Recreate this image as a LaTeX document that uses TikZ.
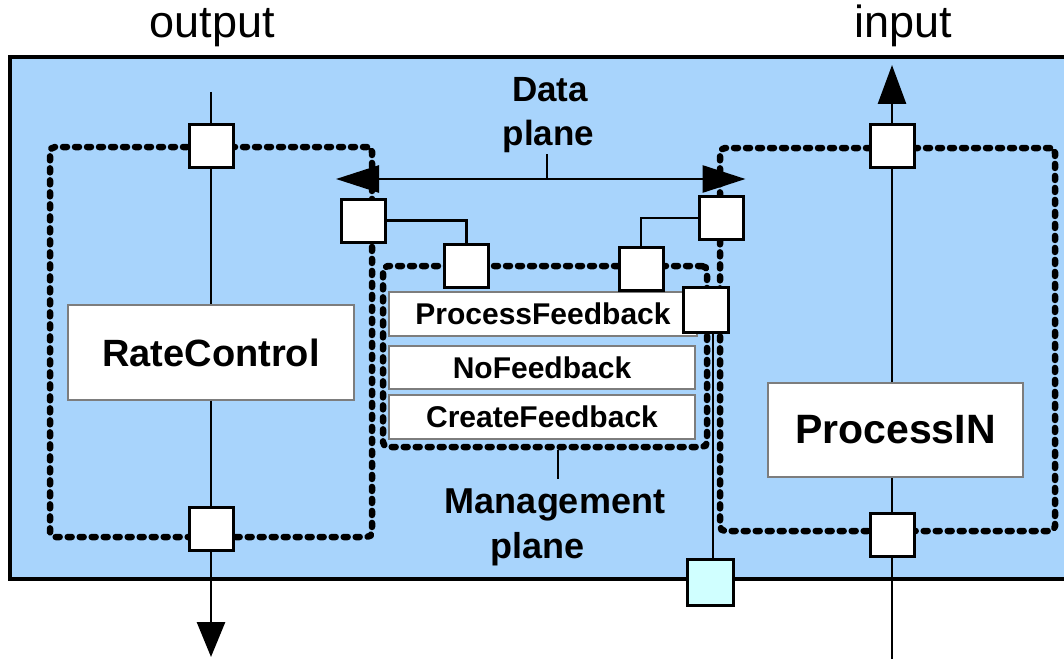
\documentclass[tikz,border=0pt]{standalone}
\usepackage{fontspec}
\setmainfont{Liberation Sans}
\usetikzlibrary{arrows.meta}
\definecolor{bgblue}{RGB}{168,212,252}
\definecolor{portcyan}{RGB}{208,255,255}
\definecolor{boxgray}{RGB}{125,125,125}
\begin{document}
\begin{tikzpicture}[x=1pt,y=-1pt,
  port/.style={draw=black,line width=3pt,fill=white,minimum width=44pt,minimum height=43pt,inner sep=0pt},
  dotloop/.style={draw=black,line width=6.5pt,line cap=round,dash pattern=on 4pt off 8pt,rounded corners=5pt,inner sep=0pt},
  block/.style={draw=boxgray,line width=1.3pt,fill=white,inner sep=0pt},
  wire/.style={line width=2.8pt},
  lbl/.style={anchor=base,inner sep=0pt}]
\useasboundingbox (0,0) rectangle (1064,658);
\clip (0,0) rectangle (1064,658);
% frame
\draw[fill=bgblue,line width=3.5pt] (10,57) rectangle (1080,579);
% dotted loops
\node[dotloop,minimum width=322pt,minimum height=390pt] (ll) at (211,342) {};
\node[dotloop,minimum width=335pt,minimum height=383pt] (rl) at (887.5,339.5) {};
\node[dotloop,minimum width=324pt,minimum height=181pt] (mg) at (545,356.5) {};
% blocks
\node[block,minimum width=286pt,minimum height=95pt,font=\bfseries\fontsize{38}{45}\selectfont] (rc) at (211,352.5) {RateControl};
\node[block,minimum width=255pt,minimum height=94pt,font=\bfseries\fontsize{41}{49}\selectfont] (pin) at (895.5,430) {ProcessIN};
\node[block,minimum width=308pt,minimum height=44pt,font=\bfseries\fontsize{30}{36}\selectfont] (pf) at (543,314) {ProcessFeedback};
\node[block,minimum width=306pt,minimum height=43pt,font=\bfseries\fontsize{30}{36}\selectfont] (nf) at (542,367.5) {NoFeedback};
\node[block,minimum width=306pt,minimum height=44pt,font=\bfseries\fontsize{30}{36}\selectfont] (cf) at (542,417) {CreateFeedback};
% ports
\node[port] (tl) at (211,145.5) {};
\node[port] (bl) at (211,528.5) {};
\node[port] (lp) at (363.5,220.5) {};
\node[port] (m1) at (466.5,266) {};
\node[port] (m2) at (641,268.5) {};
\node[port] (rp) at (721.5,218) {};
\node[port] (tr) at (892,145.5) {};
\node[port] (br) at (892,534.5) {};
\node[port,minimum width=45pt,minimum height=45pt] (pfs) at (706,309.5) {};
\node[port,fill=portcyan,minimum width=46pt,minimum height=46pt] (cy) at (710,582) {};
% output line
\coordinate (otop) at (211,92);
\coordinate (oend) at (211,657);
\draw[wire] (otop) -- (tl.north);
\draw[wire] (tl.south) -- (rc.north);
\draw[wire] (rc.south) -- (bl.north);
\draw[wire,-{Triangle[length=35pt,width=28pt]}] (bl.south) -- (oend);
% input line
\coordinate (ibot) at (892,660);
\coordinate (itip) at (892,65);
\draw[wire] (ibot) -- (br.south);
\draw[wire] (br.north) -- (br.north |- pin.south);
\draw[wire] (br.north |- pin.north) -- (tr.south);
\draw[wire,-{Triangle[length=39pt,width=28pt]}] (tr.north) -- (itip);
% data plane arrow
\coordinate (dl) at (336,179);
\coordinate (dr) at (745.5,179);
\draw[wire,{Triangle[length=43pt,width=27pt]}-{Triangle[length=43pt,width=27pt]}] (dl) -- (dr);
\coordinate (dtick) at (547,154);
\draw[wire] (dtick) -- (dtick |- dl);
% management connectors
\draw[wire] (lp.east) -| (m1.north);
\draw[wire] (rp.west) -| (m2.north);
\draw[wire] ([xshift=3pt]cy.north) -- ([xshift=3pt]cy.north |- pfs.south);
\coordinate (mtick) at (558,479);
\draw[wire] (mtick |- mg.south) -- (mtick);
% labels
\node[lbl,font=\fontsize{45}{54}\selectfont] (outl) at (212.5,38) {output};
\node[lbl,font=\fontsize{45}{54}\selectfont] (inl) at (903.5,38) {input};
\node[lbl,font=\bfseries\fontsize{35}{42}\selectfont] (dp1) at (550,102) {Data};
\node[lbl,font=\bfseries\fontsize{35}{42}\selectfont] (dp2) at (548.5,145) {plane};
\node[lbl,font=\bfseries\fontsize{36}{43}\selectfont] (mp1) at (555,513) {Management};
\node[lbl,font=\bfseries\fontsize{36}{43}\selectfont] (mp2) at (537.5,558) {plane};
\end{tikzpicture}
\end{document}
